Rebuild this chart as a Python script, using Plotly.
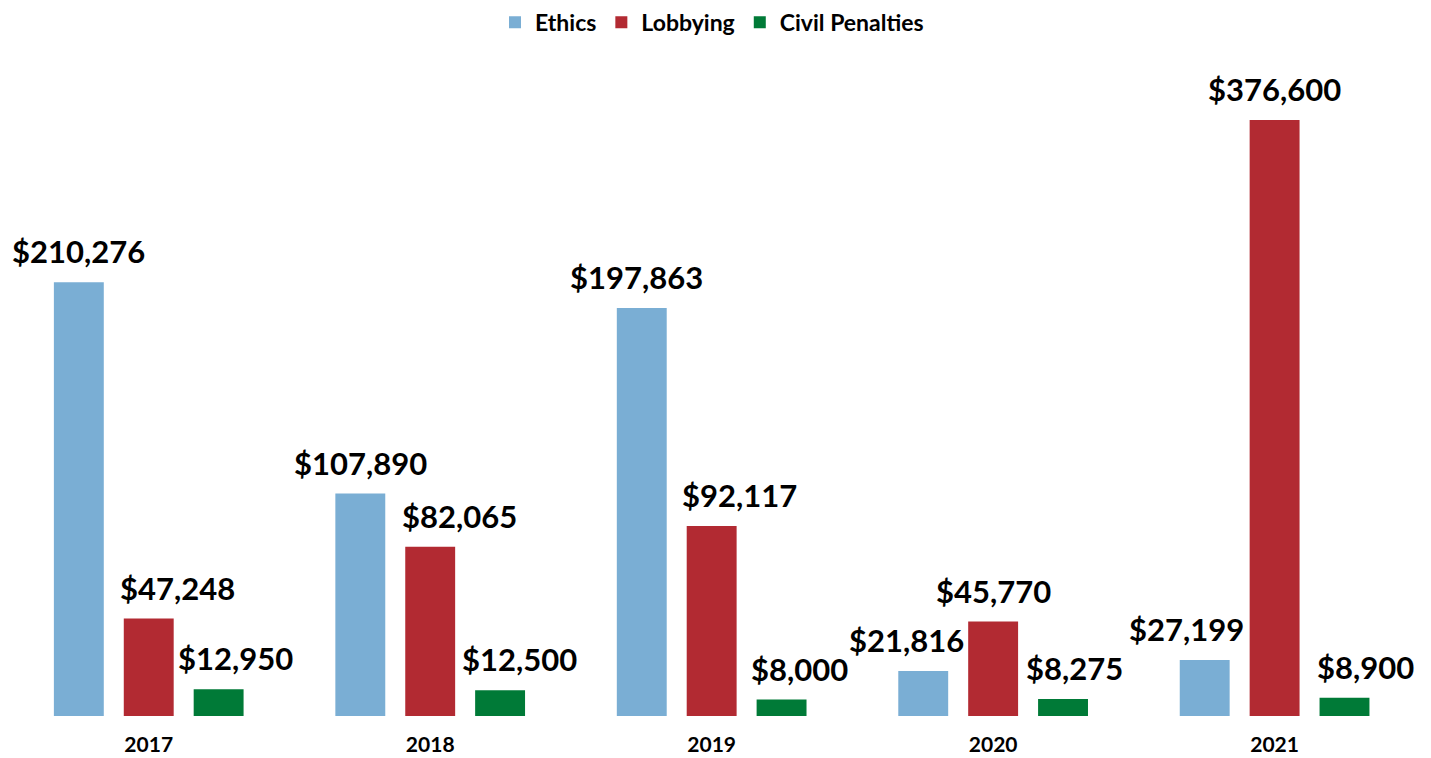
import plotly.graph_objects as go

# Fines collected by program, per year
years = ["2017", "2018", "2019", "2020", "2021"]
ethics = [210276, 107890, 197863, 21816, 27199]
lobbying = [47248, 82065, 92117, 45770, 376600]
civil_penalties = [12950, 12500, 8000, 8275, 8900]

series = [
    ("Ethics", ethics, "#7AAED4"),
    ("Lobbying", lobbying, "#B22A32"),
    ("Civil Penalties", civil_penalties, "#007A37"),
]

# nudges (px) for labels that would collide with neighbouring bars
label_shift = {
    "Ethics": [0, 0, -5, -17, -18],
    "Lobbying": [29, 29, 28, 0, 0],
    "Civil Penalties": [17, 19, 18, 11, 21],
}

FONT = "Lato"
BAR_GAP = 0.255
GROUP_GAP = 0.286
Y_MAX = 289000  # tallest bar runs off the top, as in the original

fig = go.Figure()
for name, vals, color in series:
    fig.add_trace(go.Bar(
        x=years, y=vals, name=name,
        marker=dict(color=color, line=dict(width=0)),
        hoverinfo="x+y+name",
    ))

# value labels as annotations so they can sit over the grouped slots
slot = (1 - BAR_GAP) / len(series)
for k, (name, vals, color) in enumerate(series):
    offset = (k - (len(series) - 1) / 2) * slot
    for i, v in enumerate(vals):
        fig.add_annotation(
            x=i + offset, y=min(v, Y_MAX), xref="x", yref="y",
            text=f"${v:,}", showarrow=False,
            yanchor="bottom", yshift=10, xshift=label_shift[name][i],
            font=dict(family=FONT, size=31, color="#000000", weight="bold"),
        )

# page body adds an 8px margin, so the figure is sized to sit inside it
fig.update_layout(
    width=1423, height=750,
    barmode="group", bargap=BAR_GAP, bargroupgap=GROUP_GAP,
    margin=dict(l=0, r=15, t=112, b=42),
    paper_bgcolor="white", plot_bgcolor="white",
    font=dict(family=FONT, color="#000000"),
    legend=dict(
        orientation="h", x=0.5, xanchor="center",
        yref="container", y=0.981, yanchor="middle",
        font=dict(family=FONT, size=23, weight="bold"),
        itemsizing="constant", traceorder="normal",
    ),
    xaxis=dict(
        showgrid=False, showline=False, zeroline=False, ticks="",
        tickfont=dict(family=FONT, size=21, weight="bold"),
        ticklabelstandoff=14,
    ),
    yaxis=dict(
        range=[0, Y_MAX], visible=False, showgrid=False, zeroline=False,
    ),
)

fig.write_html("out.html")
